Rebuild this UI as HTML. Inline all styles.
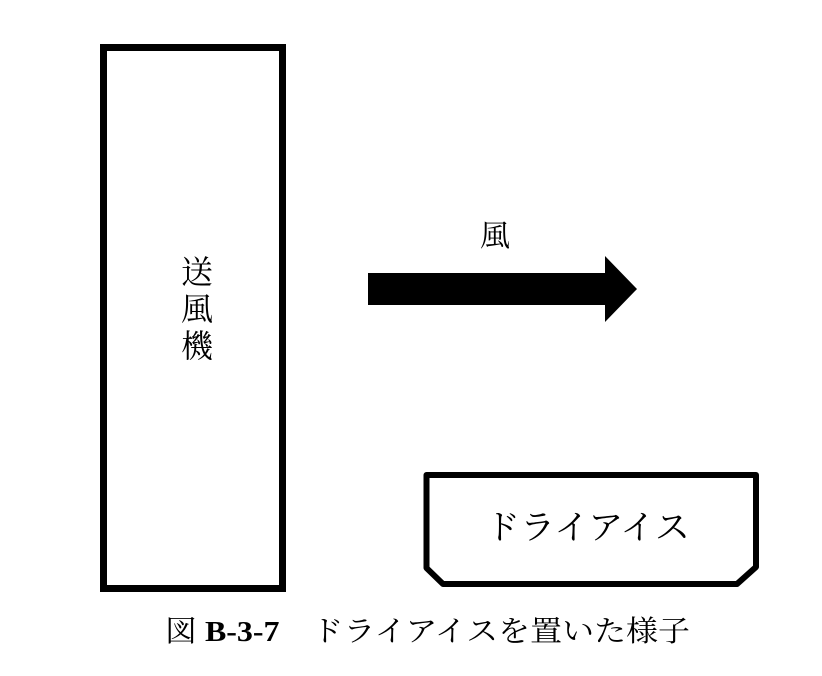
<!DOCTYPE html>
<html><head><meta charset="utf-8"><style>
html,body{margin:0;padding:0;background:#fff;}
body{width:822px;height:671px;overflow:hidden;}
text{font-family:"Liberation Serif","Noto Serif CJK SC","Noto Serif CJK JP",serif;fill:#000;}
</style></head><body>
<svg width="822" height="671" viewBox="0 0 822 671" xmlns="http://www.w3.org/2000/svg">
<rect x="103.5" y="47.5" width="179" height="541" fill="none" stroke="#000" stroke-width="7"/>
<text x="197" y="283" font-size="32" text-anchor="middle">送</text>
<text x="197" y="320" font-size="32" text-anchor="middle">風</text>
<text x="197" y="357" font-size="32" text-anchor="middle">機</text>
<text x="495" y="246" font-size="30" text-anchor="middle">風</text>
<polygon points="368,273 605,273 605,256 637,289 605,322 605,305 368,305" fill="#000"/>
<polygon points="426.5,475 756,475 756,567 737,584 443,584 426.5,568" fill="none" stroke="#000" stroke-width="6" stroke-linejoin="round"/>
<text x="485" y="539" font-size="34" textLength="205" lengthAdjust="spacingAndGlyphs">ドライアイス</text>
<text x="165" y="641" font-size="29" textLength="525" lengthAdjust="spacingAndGlyphs">図 <tspan font-weight="bold">B-3-7</tspan>　ドライアイスを置いた様子</text>
</svg>
</body></html>
